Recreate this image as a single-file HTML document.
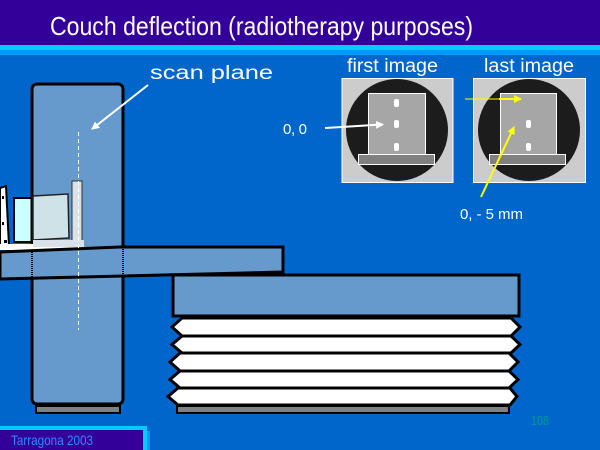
<!DOCTYPE html>
<html><head><meta charset="utf-8"><style>
html,body{margin:0;padding:0;background:#0066cc;}
svg{display:block;}
text{font-family:"Liberation Sans",Arial,sans-serif;}
</style></head><body>
<svg width="600" height="450" viewBox="0 0 600 450" xmlns="http://www.w3.org/2000/svg">
<defs>
<marker id="aw" markerWidth="8" markerHeight="8" refX="7" refY="4" orient="auto" markerUnits="userSpaceOnUse">
<path d="M0,0 L8,4 L0,8 Z" fill="#ffffff"/>
</marker>
<marker id="ay" markerWidth="8" markerHeight="8" refX="7" refY="4" orient="auto" markerUnits="userSpaceOnUse">
<path d="M0,0 L8,4 L0,8 Z" fill="#ffff00"/>
</marker>
</defs>

<rect x="0" y="0" width="600" height="450" fill="#0066cc"/>
<!-- title bar -->
<rect x="0" y="0" width="600" height="45" fill="#330099"/>
<rect x="0" y="45" width="600" height="5" fill="#00ccff"/>
<rect x="0" y="50" width="600" height="5" fill="#0099ff"/>
<text x="50" y="35" font-size="26" fill="#ffffff" textLength="423" lengthAdjust="spacingAndGlyphs">Couch deflection (radiotherapy purposes)</text>

<!-- left phantom pieces -->
<polygon points="0,188 6,186 9,246 0,246" fill="#ffffff" stroke="#000" stroke-width="2"/>
<rect x="2" y="196" width="2" height="3" fill="#000"/>
<rect x="2" y="222" width="2" height="3" fill="#000"/>
<rect x="4" y="240" width="3" height="3" fill="#000"/>
<rect x="14" y="198" width="19" height="44" fill="#ccffff" stroke="#000" stroke-width="2"/>

<!-- gantry -->
<rect x="32" y="84" width="91" height="320" rx="5" ry="5" fill="#6699cc" stroke="#000" stroke-width="3"/>
<rect x="36" y="406" width="84" height="7" fill="#808080" stroke="#000" stroke-width="2"/>

<!-- phantom in gantry -->
<polygon points="33,196 68,194 69,238 33,240" fill="#cfe2e8" stroke="#222" stroke-width="1.5"/>
<rect x="72" y="181" width="10" height="64" fill="#d8e2e8" stroke="#333" stroke-width="1"/>
<rect x="0" y="244" width="84" height="6" fill="#ffffff"/>
<rect x="33" y="240" width="51" height="7" fill="#d8e2e8"/>

<!-- couch board -->
<polygon points="0,252 120,247 283,247 283,272 0,279" fill="#6699cc" stroke="#000" stroke-width="3"/>
<line x1="32" y1="250" x2="32" y2="278" stroke="#000" stroke-width="2" stroke-dasharray="1 1"/>
<line x1="123" y1="247" x2="123" y2="275" stroke="#000" stroke-width="2" stroke-dasharray="1 1"/>

<!-- dashed scan line -->
<line x1="78.5" y1="132" x2="78.5" y2="330" stroke="#ffffff" stroke-width="1" stroke-dasharray="4 3"/>

<!-- scan plane label & arrow -->
<text x="150" y="79" font-size="19" fill="#ffffff" textLength="123" lengthAdjust="spacingAndGlyphs">scan plane</text>
<line x1="148" y1="85" x2="92" y2="129" stroke="#ffffff" stroke-width="2" marker-end="url(#aw)"/>

<!-- pedestal -->
<rect x="173" y="275" width="346" height="41" fill="#6699cc" stroke="#000" stroke-width="3"/>
<!-- bellows -->
<g fill="#ffffff" stroke="#000" stroke-width="3">
<polygon points="182,318 511,318 520,327 511,336 182,336 172,327"/>
<polygon points="182,336 511,336 520,344.5 511,353 182,353 172,344.5"/>
<polygon points="180,353 509,353 518,362 509,371 180,371 170,362"/>
<polygon points="180,371 509,371 518,379.5 509,388 180,388 170,379.5"/>
<polygon points="178,388 510,388 517,396.5 510,405 178,405 168,396.5"/>
</g>
<rect x="177" y="406" width="332" height="7" fill="#808080" stroke="#000" stroke-width="2"/>

<!-- first image -->
<text x="347" y="72" font-size="19" fill="#ffffff" textLength="91" lengthAdjust="spacingAndGlyphs">first image</text>
<rect x="342" y="78.5" width="111" height="104" fill="#cccccc" stroke="#ffffff" stroke-width="1"/>
<circle cx="397" cy="130" r="51" fill="#1c1c1c"/>
<rect x="368.5" y="93.5" width="57" height="61" fill="#a6a6a6" stroke="#ffffff" stroke-width="1"/>
<rect x="358.5" y="154.5" width="76" height="10" fill="#808080" stroke="#ffffff" stroke-width="1"/>
<rect x="394" y="99" width="5" height="8" rx="2" fill="#ffffff"/>
<rect x="394" y="120" width="5" height="8" rx="2" fill="#ffffff"/>
<rect x="394" y="143" width="5" height="8" rx="2" fill="#ffffff"/>
<line x1="325" y1="128" x2="383" y2="124.5" stroke="#ffffff" stroke-width="2" marker-end="url(#aw)"/>
<text x="283" y="134" font-size="15" fill="#ffffff" textLength="24" lengthAdjust="spacing">0, 0</text>

<!-- last image -->
<text x="484" y="72" font-size="19" fill="#ffffff" textLength="90" lengthAdjust="spacingAndGlyphs">last image</text>
<rect x="473.5" y="78.5" width="112" height="104" fill="#cccccc" stroke="#ffffff" stroke-width="1"/>
<circle cx="529" cy="130" r="51" fill="#1c1c1c"/>
<rect x="500.5" y="93.5" width="56" height="61" fill="#a6a6a6" stroke="#ffffff" stroke-width="1"/>
<rect x="489.5" y="154.5" width="76" height="10" fill="#808080" stroke="#ffffff" stroke-width="1"/>
<rect x="526" y="120" width="5" height="8" rx="2" fill="#ffffff"/>
<rect x="526" y="143" width="5" height="8" rx="2" fill="#ffffff"/>
<line x1="465" y1="99" x2="500" y2="99" stroke="#ffff00" stroke-width="1"/>
<line x1="499" y1="99" x2="521" y2="99" stroke="#ffff00" stroke-width="2" marker-end="url(#ay)"/>
<line x1="481" y1="197" x2="514" y2="127" stroke="#ffff00" stroke-width="2" marker-end="url(#ay)"/>
<text x="460" y="219" font-size="15" fill="#ffffff" textLength="63" lengthAdjust="spacing">0, - 5 mm</text>

<!-- page number -->
<text x="531" y="425" font-size="13" fill="#009999" textLength="18" lengthAdjust="spacingAndGlyphs">108</text>

<!-- footer -->
<rect x="146" y="431" width="4" height="19" fill="#0099ff"/>
<rect x="0" y="426" width="147" height="24" fill="#00ccff"/>
<rect x="0" y="430" width="143" height="20" fill="#330099"/>
<text x="11" y="445" font-size="14" fill="#3388ff" textLength="82" lengthAdjust="spacingAndGlyphs">Tarragona 2003</text>
</svg>
</body></html>
